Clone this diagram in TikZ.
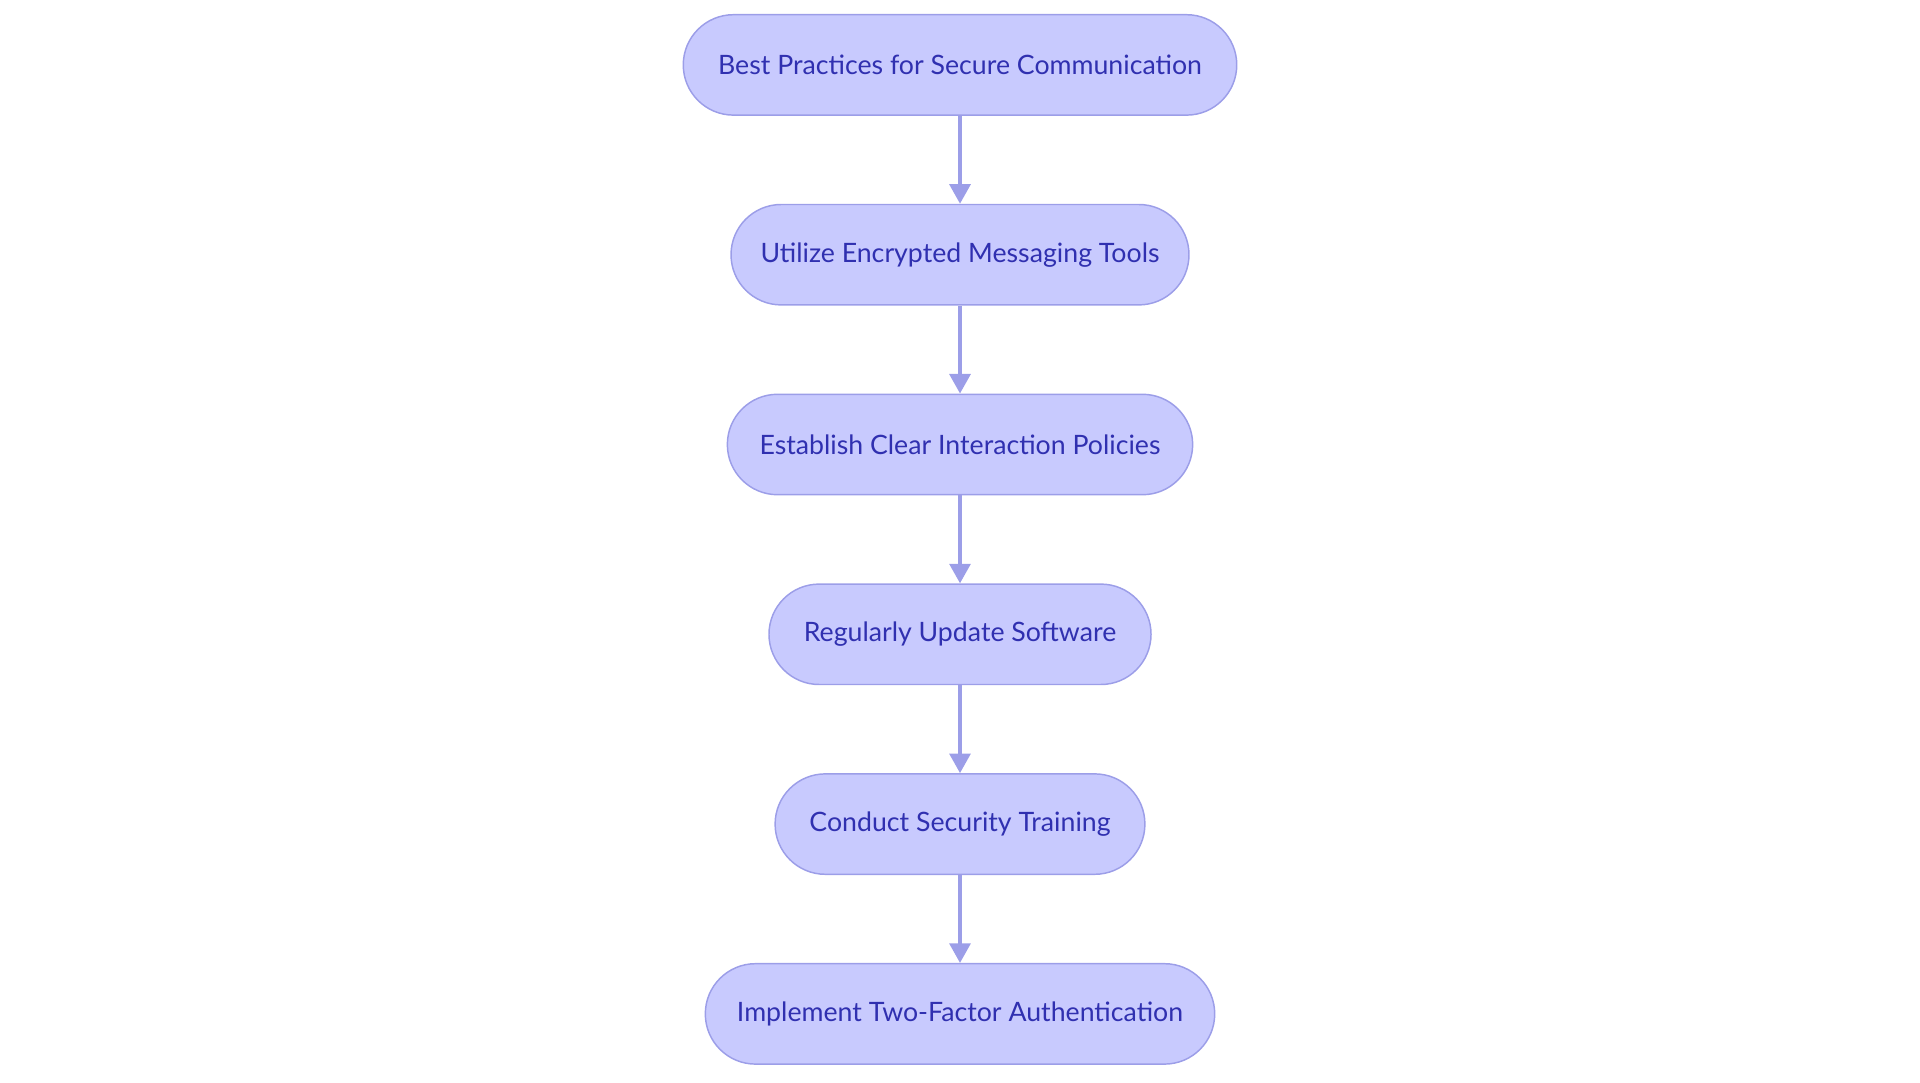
\documentclass[tikz,border=0pt]{standalone}
\usepackage{fontspec}
\setmainfont{Lato}
\usetikzlibrary{arrows.meta}
\definecolor{nfill}{HTML}{C8CAFE}
\definecolor{nline}{HTML}{9C9EE8}
\definecolor{ntext}{HTML}{3030B0}
\begin{document}
\begin{tikzpicture}[x=1pt,y=-1pt,
  box/.style={rounded corners=41pt,draw=nline,fill=nfill,line width=1.2pt,minimum height=82pt,text=ntext,font=\fontsize{21.8}{25}\selectfont,inner sep=0pt},
  arr/.style={draw=nline,line width=3pt,-{Triangle[length=16pt,width=17pt]}}]
\useasboundingbox (0,0) rectangle (1568,884);
\node[box,minimum width=452pt] (a) at (784,53) {Best Practices for Secure Communication};
\node[box,minimum width=374pt] (b) at (784,208) {Utilize Encrypted Messaging Tools};
\node[box,minimum width=380pt] (c) at (784,363) {Establish Clear Interaction Policies};
\node[box,minimum width=312pt] (d) at (784,518) {Regularly Update Software};
\node[box,minimum width=302pt] (e) at (784,673) {Conduct Security Training};
\node[box,minimum width=416pt] (f) at (784,828) {Implement Two-Factor Authentication};
\draw[arr] (a) -- (b);
\draw[arr] (b) -- (c);
\draw[arr] (c) -- (d);
\draw[arr] (d) -- (e);
\draw[arr] (e) -- (f);
\end{tikzpicture}
\end{document}
